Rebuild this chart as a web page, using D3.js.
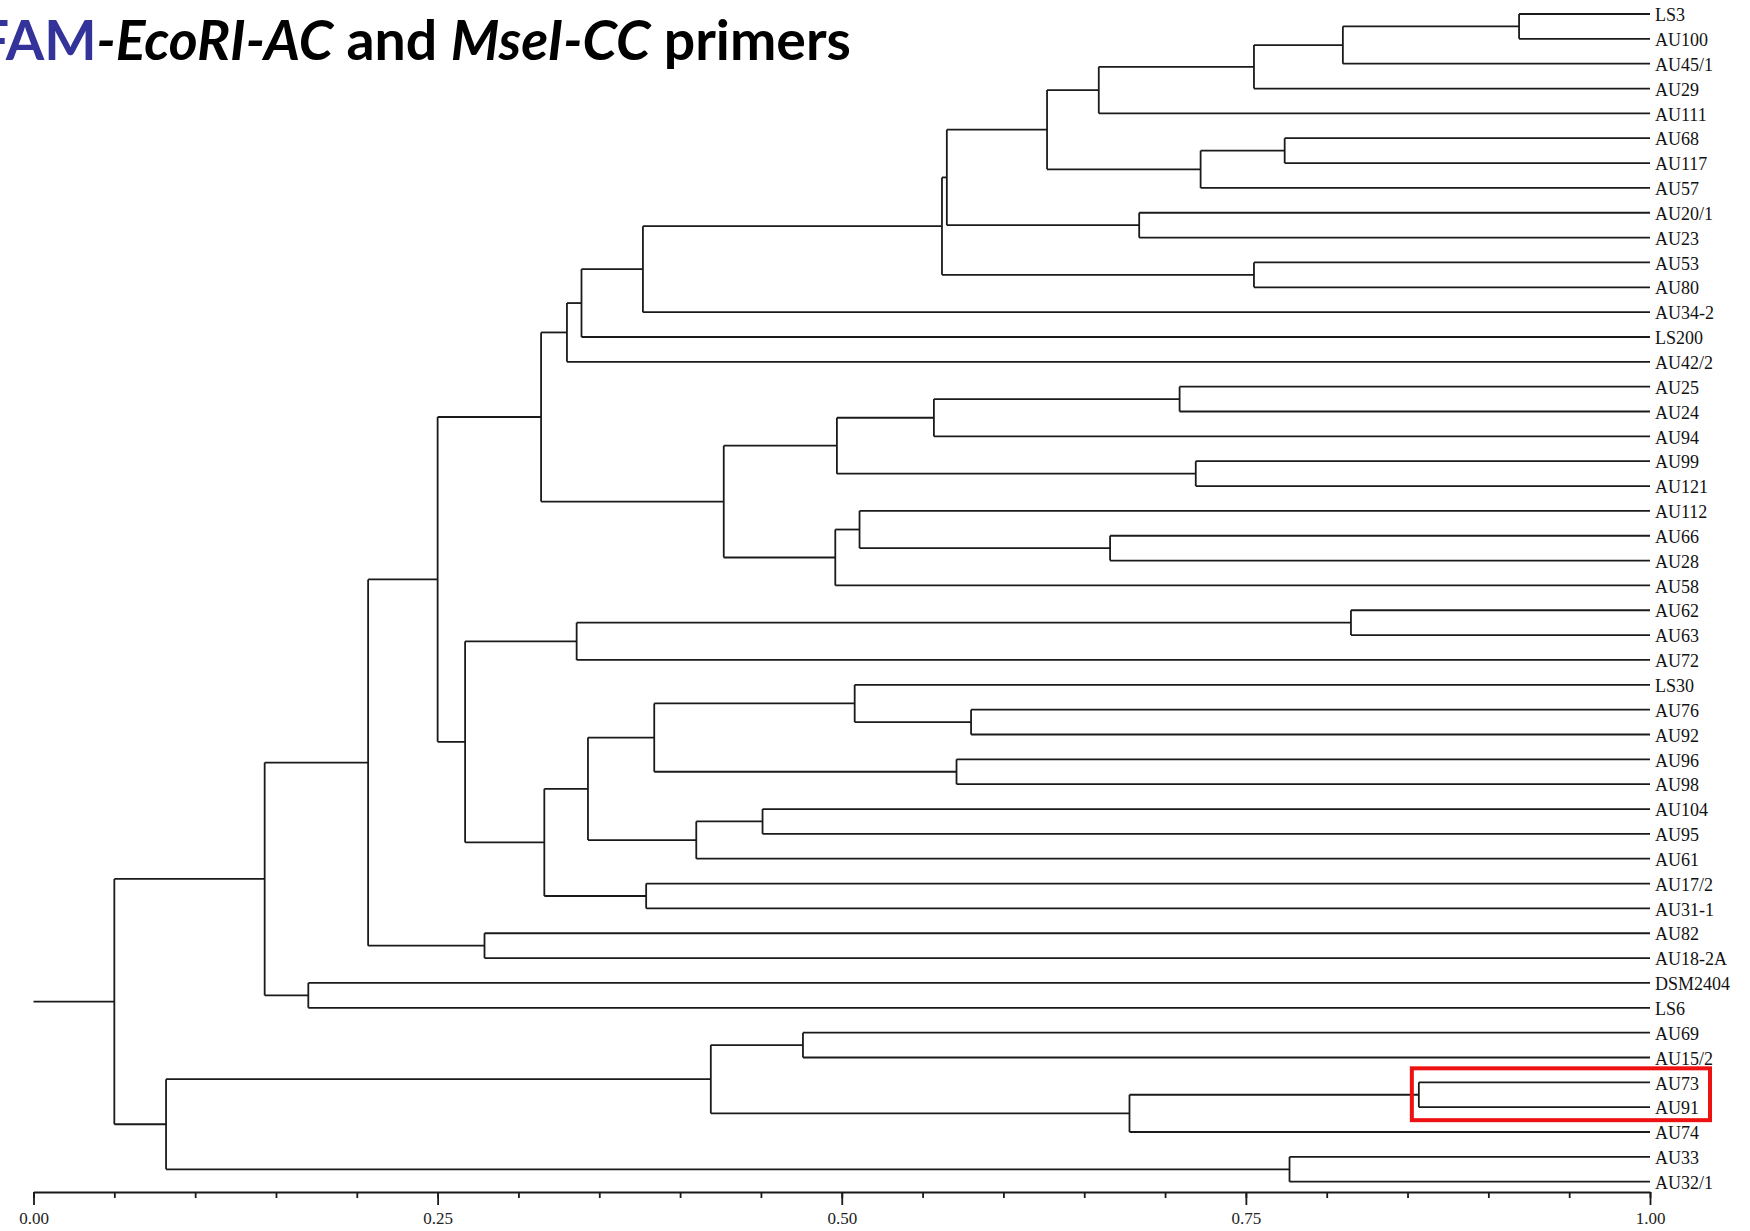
<!DOCTYPE html>
<html>
<head>
<meta charset="utf-8">
<script src="https://cdnjs.cloudflare.com/ajax/libs/d3/7.8.5/d3.min.js"></script>
<style>
body { margin: 0; background: #fff; }
svg { display: block; background: #fff; }
</style>
</head>
<body>
<svg width="1750" height="1231"></svg>
<script>
var leaves = ['LS3', 'AU100', 'AU45/1', 'AU29', 'AU111', 'AU68', 'AU117', 'AU57',
    'AU20/1', 'AU23', 'AU53', 'AU80', 'AU34-2', 'LS200', 'AU42/2', 'AU25', 'AU24',
    'AU94', 'AU99', 'AU121', 'AU112', 'AU66', 'AU28', 'AU58', 'AU62', 'AU63', 'AU72',
    'LS30', 'AU76', 'AU92', 'AU96', 'AU98', 'AU104', 'AU95', 'AU61', 'AU17/2',
    'AU31-1', 'AU82', 'AU18-2A', 'DSM2404', 'LS6', 'AU69', 'AU15/2', 'AU73', 'AU91',
    'AU74', 'AU33', 'AU32/1'];

// linkage rows: [left, right, similarity]; a number points to an earlier row
var merges = [
    ['LS3', 'AU100', 0.919],
    [0, 'AU45/1', 0.810],
    [1, 'AU29', 0.755],
    [2, 'AU111', 0.659],
    ['AU68', 'AU117', 0.774],
    [4, 'AU57', 0.722],
    [3, 5, 0.627],
    ['AU20/1', 'AU23', 0.684],
    [6, 7, 0.565],
    ['AU53', 'AU80', 0.755],
    [8, 9, 0.562],
    [10, 'AU34-2', 0.377],
    [11, 'LS200', 0.339],
    [12, 'AU42/2', 0.330],
    ['AU25', 'AU24', 0.709],
    [14, 'AU94', 0.557],
    ['AU99', 'AU121', 0.719],
    [15, 16, 0.497],
    ['AU66', 'AU28', 0.666],
    ['AU112', 18, 0.511],
    [19, 'AU58', 0.496],
    [17, 20, 0.427],
    [13, 21, 0.314],
    ['AU62', 'AU63', 0.815],
    [23, 'AU72', 0.336],
    ['AU76', 'AU92', 0.580],
    ['LS30', 25, 0.508],
    ['AU96', 'AU98', 0.571],
    [26, 27, 0.384],
    ['AU104', 'AU95', 0.451],
    [29, 'AU61', 0.410],
    [28, 30, 0.343],
    ['AU17/2', 'AU31-1', 0.379],
    [31, 32, 0.316],
    [24, 33, 0.267],
    [22, 34, 0.250],
    ['AU82', 'AU18-2A', 0.279],
    [35, 36, 0.207],
    ['DSM2404', 'LS6', 0.170],
    [37, 38, 0.143],
    ['AU69', 'AU15/2', 0.476],
    ['AU73', 'AU91', 0.857],
    [41, 'AU74', 0.678],
    [40, 42, 0.419],
    ['AU33', 'AU32/1', 0.777],
    [43, 44, 0.082],
    [39, 45, 0.050]
];

var minorTicks = [0, 0.05, 0.1, 0.15, 0.2, 0.25, 0.3, 0.35, 0.4, 0.45, 0.5, 0.55,
    0.6, 0.65, 0.7, 0.75, 0.8, 0.85, 0.9, 0.95, 1];
var majorTicks = [0, 0.25, 0.5, 0.75, 1];
var highlight = ['AU73', 'AU91'];

var svg = d3.select('svg'),
    x = d3.scaleLinear().domain([0, 1]).range([33.5, 1650]),
    y = d3.scalePoint().domain(leaves).range([14, 1181.7]),
    axisY = 1192;

var root = d3.hierarchy(buildTree(), function(d) { return d.children; });

root.eachAfter(function(n) {
    if (n.children) {
        n.py = d3.mean(n.children, function(c) { return c.py; });
        n.px = x(n.data.level);
    } else {
        n.py = y(n.data.name);
        n.px = x(1);
    }
});

drawTree();
drawLabels();
drawAxis();
drawBox();
drawTitle();


function buildTree() {
    var nodes = [];
    function get(k) {
        return typeof k === 'number' ? nodes[k] : { name: k };
    }
    for (var i = 0, l = merges.length; i < l; i++) {
        nodes.push({
            level: merges[i][2],
            children: [get(merges[i][0]), get(merges[i][1])]
        });
    }
    return nodes[nodes.length - 1];
}

function drawTree() {
    var g = svg.append('g')
        .attr('stroke', '#1a1a1a')
        .attr('stroke-width', 1.8)
        .attr('fill', 'none');

    // stem of the root
    g.append('line')
        .attr('x1', x(0)).attr('x2', root.px)
        .attr('y1', root.py).attr('y2', root.py);

    root.each(function(n) {
        if (!n.children) return;
        var ys = n.children.map(function(c) { return c.py; });
        g.append('line')
            .attr('x1', n.px).attr('x2', n.px)
            .attr('y1', d3.min(ys)).attr('y2', d3.max(ys));
        n.children.forEach(function(c) {
            g.append('line')
                .attr('x1', n.px).attr('x2', c.px)
                .attr('y1', c.py).attr('y2', c.py);
        });
    });
}

function drawLabels() {
    svg.append('g').selectAll('text')
        .data(root.leaves())
        .join('text')
        .attr('x', x(1) + 5)
        .attr('y', function(d) { return d.py; })
        .attr('dy', '0.4em')
        .attr('font-family', '"Liberation Serif", "DejaVu Serif", serif')
        .attr('font-size', 18)
        .attr('fill', '#111')
        .text(function(d) { return d.data.name; });
}

function drawAxis() {
    var minor = svg.append('g')
        .attr('transform', 'translate(0,' + axisY + ')')
        .call(d3.axisBottom(x).tickValues(minorTicks).tickSize(6).tickSizeOuter(0).tickFormat(''));

    var major = svg.append('g')
        .attr('transform', 'translate(0,' + axisY + ')')
        .call(d3.axisBottom(x).tickValues(majorTicks).tickSize(13).tickSizeOuter(0)
            .tickPadding(7).tickFormat(d3.format('.2f')));
    major.select('.domain').remove();

    svg.selectAll('.domain, .tick line')
        .attr('stroke', '#1a1a1a')
        .attr('stroke-width', 1.8);
    major.selectAll('text')
        .attr('font-family', '"Liberation Serif", "DejaVu Serif", serif')
        .attr('font-size', 17)
        .attr('fill', '#222');
}

function drawBox() {
    var top = y(highlight[0]) - 14,
        bottom = y(highlight[1]) + 13,
        left = x(merges[41][2]) - 7;
    svg.append('rect')
        .attr('x', left)
        .attr('y', top)
        .attr('width', 1710 - left)
        .attr('height', bottom - top)
        .attr('fill', 'none')
        .attr('stroke', '#ee1111')
        .attr('stroke-width', 4);
}

function drawTitle() {
    var font = 'Lato, "Open Sans", sans-serif';
    var parts = [
        ['FAM', 'normal', '#333399'],
        ['-EcoRI-AC', 'italic', '#000'],
        [' and ', 'normal', '#000'],
        ['MseI-CC', 'italic', '#000'],
        [' primers', 'normal', '#000']
    ];

    // width of the leading "F", measured on its own
    var probe = svg.append('text')
        .attr('font-family', font)
        .attr('font-weight', 'bold')
        .attr('font-size', 50)
        .text('F');
    var fw = probe.node().getComputedTextLength();
    probe.remove();

    var t = svg.append('text')
        .attr('y', 60)
        .attr('font-family', font)
        .attr('font-weight', 'bold')
        .attr('font-size', 50);
    parts.forEach(function(p) {
        t.append('tspan')
            .attr('font-style', p[1])
            .attr('fill', p[2])
            .text(p[0]);
    });
    var total = t.node().getComputedTextLength(),
        k = 842 / (total - fw);
    t.attr('font-size', 50 * k);
    // most of the first letter runs off the left edge, as in the source image
    t.attr('x', 9 - fw * k);
}
</script>
</body>
</html>
